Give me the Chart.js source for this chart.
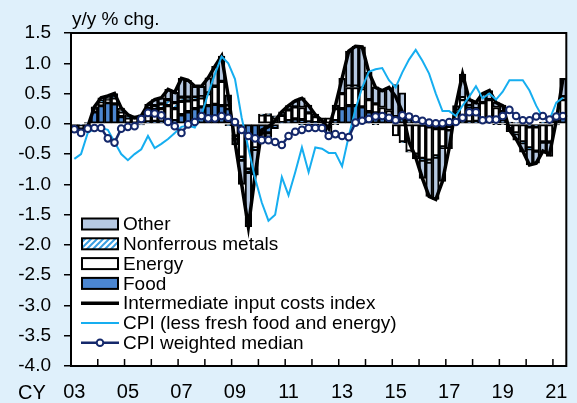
<!DOCTYPE html>
<html>
<head>
<meta charset="utf-8">
<script src="https://cdn.jsdelivr.net/npm/chart.js@4.4.1/dist/chart.umd.min.js"></script>
<style>
  html, body { margin: 0; padding: 0; background: #dff0fb; }
  #chart { display: block; }
</style>
</head>
<body>
<canvas id="chart" width="577" height="403"></canvas>
<script>
// quarterly, CY2003 Q1 - CY2021 Q2
const years = ['03','04','05','06','07','08','09','10','11','12','13','14','15','16','17','18','19','20','21'];
const tickYears = ['03','05','07','09','11','13','15','17','19','21'];

// contributions, y/y % chg.
const food = [0.0,-0.02,0.02,0.2, 0.3,0.35,0.33,0.12, 0.0,-0.03,-0.02,0.03, 0.04,0.03,0.05,0.05,
  0.15,0.2,0.25,0.28, 0.3,0.32,0.3,0.25, 0.05,-0.1,-0.2,-0.25, -0.15,-0.15,-0.08,0.02,
  0.05,0.08,0.07,0.03, 0.02,0.0,-0.02,0.05, 0.25,0.3,0.3,0.28, 0.2,0.18,0.15,0.12,
  0.12,0.1,0.05,0.03, -0.02,-0.05,-0.08,-0.08, -0.05,0.0,0.05,0.03, 0.04,0.05,0.05,0.05,
  0.05,0.03,0.02,0.02, -0.05,-0.05,0.02,0.03, 0.05,0.1];
const energy = [-0.05,-0.06,-0.03,0.05, 0.06,0.05,0.1,0.08, 0.1,0.1,0.12,0.18, 0.2,0.22,0.25,0.2,
  0.22,0.18,0.15,0.15, 0.2,0.3,0.4,0.05, -0.2,-0.45,-0.55,-0.15, 0.15,0.15,0.1,0.12,
  0.18,0.2,0.2,0.15, 0.1,0.1,0.1,0.2, 0.25,0.3,0.3,0.3, 0.2,0.15,0.12,0.1,
  -0.2,-0.3,-0.45,-0.5, -0.55,-0.55,-0.45,-0.3, -0.05,0.2,0.35,0.25, 0.2,0.3,0.35,0.22,
  0.15,-0.08,-0.15,-0.3, -0.35,-0.4,-0.3,-0.3, 0.0,0.3];
const nonferrous = [0,0,0,0.01, 0.02,0.02,0.02,0.02, 0.02,0.01,0.01,0.04, 0.06,0.08,0.1,0.1,
  0.07,0.06,0.04,0.02, 0.01,0,0,-0.03, -0.05,-0.05,-0.05,-0.02, 0.01,0.02,0.02,0.01,
  0,0,-0.01,-0.01, -0.01,-0.02,-0.02,-0.01, 0,0.02,0.02,0.01, 0,-0.01,0,0,
  0,-0.01,-0.02,-0.03, -0.03,-0.03,-0.02,-0.01, 0.01,0.02,0.03,0.02, 0.01,0,0,-0.01,
  -0.01,-0.01,-0.01,-0.01, -0.01,0,0.01,0.01, 0.02,0.05];
const other = [-0.05,-0.07,-0.04,0.02, 0.05,0.04,0.05,0.04, 0.03,0.02,0.02,0.07, 0.1,0.1,0.17,0.17,
  0.31,0.28,0.18,0.17, 0.25,0.33,0.42,0.18, -0.1,-0.4,-0.9,-0.43, -0.11,-0.07,0.01,0.05,
  0.07,0.1,0.16,0.13, 0.04,-0.03,-0.14,0.06, 0.25,0.58,0.66,0.68, 0.45,0.28,0.28,0.38,
  0.53,0.41,0.12,-0.05, -0.3,-0.57,-0.7,-0.56, -0.31,0.08,0.39,0.1, 0.1,0.15,0.15,0.09,
  0.11,-0.04,-0.11,-0.16, -0.27,-0.2,-0.18,-0.24, -0.02,0.3];
const inputCosts = [-0.1,-0.15,-0.05,0.28, 0.43,0.46,0.5,0.26, 0.15,0.1,0.13,0.32, 0.4,0.43,0.57,0.52,
  0.75,0.72,0.62,0.62, 0.76,0.95,1.12,0.45, -0.3,-1.0,-1.7,-0.85, -0.1,-0.05,0.05,0.2,
  0.3,0.38,0.42,0.3, 0.15,0.05,-0.08,0.3, 0.75,1.2,1.28,1.27, 0.85,0.6,0.55,0.6,
  0.45,0.2,-0.3,-0.55, -0.9,-1.2,-1.25,-0.95, -0.4,0.3,0.82,0.4, 0.35,0.5,0.55,0.35,
  0.3,-0.1,-0.25,-0.45, -0.68,-0.65,-0.45,-0.5, 0.05,0.75];
const coreCpi = [-0.58,-0.5,-0.15,-0.08, -0.07,-0.1,-0.3,-0.5, -0.6,-0.5,-0.42,-0.2, -0.4,-0.33,-0.25,-0.15,
  -0.05,-0.03,-0.06,0.15, 0.5,0.82,1.11,1.0, 0.74,0.1,-0.4,-0.9, -1.3,-1.6,-1.5,-0.88,
  -1.18,-0.8,-0.39,-0.8, -0.39,-0.41,-0.48,-0.48, -0.7,-0.2,0.24,0.6, 0.86,0.9,0.92,0.72,
  0.6,0.85,1.06,1.22, 1.04,0.83,0.5,0.21, 0.21,0.13,0.3,0.45, 0.62,0.42,0.5,0.4,
  0.53,0.72,0.72,0.72, 0.55,0.3,0.1,0.07, 0.35,0.43];
const medianCpi = [-0.09,-0.15,-0.08,-0.07, -0.07,-0.24,-0.31,-0.08, -0.05,-0.04,0.08,0.18, 0.17,0.14,0.03,-0.04,
  -0.15,-0.01,0.03,0.13, 0.09,0.09,0.13,0.1, 0.03,-0.1,-0.2,-0.24, -0.27,-0.27,-0.3,-0.35,
  -0.2,-0.13,-0.1,-0.07, -0.07,-0.07,-0.2,-0.17, -0.2,-0.22,0.02,0.05, 0.08,0.12,0.13,0.1,
  0.06,0.14,0.12,0.08, 0.05,0.02,0.01,0.01, 0.03,0.03,0.1,0.19, 0.19,0.06,0.07,0.07,
  0.13,0.23,0.13,0.06, 0.06,0.12,0.13,0.07, 0.12,0.13];

const labels = [];
for (const y of years) {
  for (let q = 1; q <= 4; q++) {
    if (labels.length < food.length) labels.push(y + 'Q' + q);
  }
}

const FONT = "'Liberation Sans', Arial, sans-serif";

// diagonal hatch for nonferrous metals
function hatchPattern() {
  const c = document.createElement('canvas');
  c.width = 6; c.height = 6;
  const g = c.getContext('2d');
  g.fillStyle = '#ffffff';
  g.fillRect(0, 0, 6, 6);
  g.strokeStyle = '#3a9fe2';
  g.lineWidth = 2;
  g.beginPath();
  g.moveTo(0, 6); g.lineTo(6, 0);
  g.moveTo(-3, 3); g.lineTo(3, -3);
  g.moveTo(3, 9); g.lineTo(9, 3);
  g.stroke();
  return g.createPattern(c, 'repeat');
}

const barBase = {
  type: 'bar',
  stack: 'bars',
  borderColor: '#000000',
  borderWidth: 2,
  borderSkipped: false,
  barPercentage: 1,
  categoryPercentage: 1
};

// background, frame, axis texts, year ticks and the legend
const framePlugin = {
  id: 'frame',
  beforeDraw(chart) {
    const { ctx, chartArea: a } = chart;
    ctx.save();
    ctx.fillStyle = '#dff0fb';
    ctx.fillRect(0, 0, chart.width, chart.height);
    ctx.fillStyle = '#ffffff';
    ctx.fillRect(a.left, a.top, a.right - a.left, a.bottom - a.top);
    ctx.fillStyle = '#000000';
    ctx.textBaseline = 'middle';
    ctx.font = '19px ' + FONT;
    ctx.fillText('y/y % chg.', 72, 20);
    ctx.font = '20px ' + FONT;
    ctx.fillText('CY', 18, 393);
    ctx.restore();
  },
  afterDraw(chart) {
    const { ctx, chartArea: a } = chart;
    const xs = chart.scales.x;
    ctx.save();
    ctx.strokeStyle = '#000000';
    ctx.lineWidth = 2;
    ctx.strokeRect(a.left, a.top, a.right - a.left, a.bottom - a.top);

    // year boundaries
    ctx.lineWidth = 1.5;
    ctx.beginPath();
    for (let i = 4; i < labels.length; i += 4) {
      const x = (xs.getPixelForValue(i - 1) + xs.getPixelForValue(i)) / 2;
      ctx.moveTo(x, a.bottom);
      ctx.lineTo(x, a.bottom - 7);
    }
    ctx.stroke();

    // legend
    const x0 = 82, w = 36, y0 = 224, step = 19.8;
    ctx.font = '19px ' + FONT;
    ctx.textBaseline = 'middle';
    chart.data.datasets.forEach((ds, i) => {
      const y = y0 + i * step;
      if (ds.type === 'bar') {
        ctx.fillStyle = ds.backgroundColor;
        ctx.fillRect(x0, y - 5.5, w, 11);
        ctx.strokeStyle = '#000000';
        ctx.lineWidth = 2;
        ctx.strokeRect(x0, y - 5.5, w, 11);
      } else {
        ctx.strokeStyle = ds.borderColor;
        ctx.lineWidth = ds.borderWidth;
        ctx.beginPath();
        ctx.moveTo(x0 - 1, y);
        ctx.lineTo(x0 + w + 1, y);
        ctx.stroke();
        if (ds.pointRadius) {
          ctx.beginPath();
          ctx.arc(x0 + w / 2, y, ds.pointRadius, 0, Math.PI * 2);
          ctx.fillStyle = ds.pointBackgroundColor;
          ctx.fill();
          ctx.lineWidth = ds.pointBorderWidth;
          ctx.strokeStyle = ds.pointBorderColor;
          ctx.stroke();
        }
      }
      ctx.fillStyle = '#000000';
      ctx.fillText(ds.label, x0 + w + 5, y + 1);
    });
    ctx.restore();
  }
};

new Chart(document.getElementById('chart'), {
  data: {
    labels: labels,
    datasets: [
      { ...barBase, label: 'Other', data: other, backgroundColor: '#b6c9e2', order: 13 },
      { ...barBase, label: 'Nonferrous metals', data: nonferrous, backgroundColor: hatchPattern(), order: 12 },
      { ...barBase, label: 'Energy', data: energy, backgroundColor: '#ffffff', order: 11 },
      { ...barBase, label: 'Food', data: food, backgroundColor: '#4b86d1', order: 10 },
      {
        type: 'line', label: 'Intermediate input costs index', data: inputCosts, stack: 'l1',
        borderColor: '#000000', borderWidth: 3.5, pointRadius: 0, tension: 0, order: 2
      },
      {
        type: 'line', label: 'CPI (less fresh food and energy)', data: coreCpi, stack: 'l2',
        borderColor: '#16aef0', borderWidth: 2, pointRadius: 0, tension: 0, order: 1
      },
      {
        type: 'line', label: 'CPI weighted median', data: medianCpi, stack: 'l3',
        borderColor: '#14286b', borderWidth: 2.5, tension: 0, order: 0,
        pointRadius: 3.3, pointBackgroundColor: '#ffffff', pointBorderColor: '#14286b', pointBorderWidth: 2
      }
    ]
  },
  options: {
    responsive: false,
    animation: false,
    layout: { padding: { top: 33, right: 2, left: 0, bottom: 0 } },
    plugins: { legend: { display: false }, tooltip: { enabled: false } },
    scales: {
      x: {
        stacked: true,
        offset: true,
        grid: { drawOnChartArea: false, drawTicks: false },
        border: { color: '#000000', width: 2 },
        ticks: {
          autoSkip: false, maxRotation: 0, minRotation: 0, padding: 14,
          color: '#000000', font: { family: FONT, size: 20 },
          callback(v) {
            const lab = this.getLabelForValue(v);
            const yr = lab.slice(0, 2);
            return lab.endsWith('Q1') && tickYears.includes(yr) ? yr : '';
          }
        },
        afterFit(s) { s.height = 37; }
      },
      y: {
        stacked: true,
        min: -4,
        max: 1.5,
        ticks: {
          stepSize: 0.5, padding: 13, color: '#000000',
          font: { family: FONT, size: 19 },
          callback: v => v.toFixed(1)
        },
        grid: { drawOnChartArea: false, tickLength: 7, color: '#000000', lineWidth: 1.5 },
        border: { color: '#000000', width: 2 },
        afterFit(s) { s.width = 71; }
      }
    }
  },
  plugins: [framePlugin]
});
</script>
</body>
</html>
